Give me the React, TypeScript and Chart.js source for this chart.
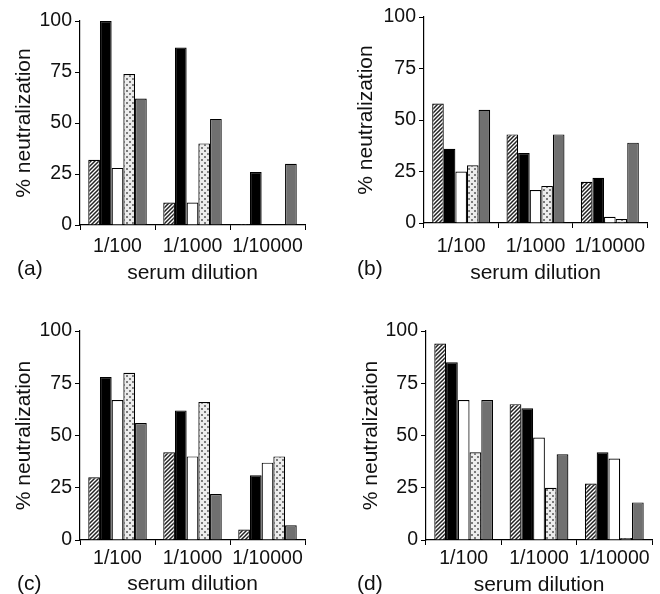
import React, { useEffect, useRef } from "react";
import { Chart, registerables } from "chart.js";

Chart.register(...registerables);

const categories = ["1/100", "1/1000", "1/10000"];
const yTickValues = [0, 25, 50, 75, 100];
const yTitle = "% neutralization";
const xTitle = "serum dilution";

// Panel (a)
const aHatched = [32, 11, 0.5];
const aBlack = [100, 87, 26];
const aWhite = [28, 11, 0];
const aDotted = [74, 40, 0];
const aGray = [62, 52, 30];

// Panel (b)
const bHatched = [58, 43, 20];
const bBlack = [36, 34, 22];
const bWhite = [25, 16, 3];
const bDotted = [28, 18, 2];
const bGray = [55, 43, 39];

// Panel (c)
const cHatched = [30, 42, 5];
const cBlack = [78, 62, 31];
const cWhite = [67, 40, 37];
const cDotted = [80, 66, 40];
const cGray = [56, 22, 7];

// Panel (d)
const dHatched = [94, 65, 27];
const dBlack = [85, 63, 42];
const dWhite = [67, 49, 39];
const dDotted = [42, 25, 1];
const dGray = [67, 41, 18];

const FONT = "'Liberation Sans', Arial, Helvetica, sans-serif";
const TEXT = "#111111";
const TICK_SIZE = 19.5;
const TITLE_SIZE = 21;

function makeHatch(): CanvasPattern | string {
  const c = document.createElement("canvas");
  c.width = 4;
  c.height = 4;
  const g = c.getContext("2d");
  if (!g) return "#888";
  g.fillStyle = "#ffffff";
  g.fillRect(0, 0, 4, 4);
  g.strokeStyle = "#222222";
  g.lineWidth = 1.5;
  g.beginPath();
  g.moveTo(0, 4);
  g.lineTo(4, 0);
  g.moveTo(-1, 1);
  g.lineTo(1, -1);
  g.moveTo(3, 5);
  g.lineTo(5, 3);
  g.stroke();
  return g.createPattern(c, "repeat") || "#888";
}

function makeDots(): CanvasPattern | string {
  const c = document.createElement("canvas");
  c.width = 6;
  c.height = 6;
  const g = c.getContext("2d");
  if (!g) return "#ddd";
  g.fillStyle = "#ececec";
  g.fillRect(0, 0, 6, 6);
  g.fillStyle = "#7a7a7a";
  g.fillRect(0, 0, 2, 2);
  g.fillRect(3, 3, 2, 2);
  return g.createPattern(c, "repeat") || "#ddd";
}

type Geo = {
  axisLeft: number;
  axisRight: number;
  top: number;
  bottom: number;
  yTitleCenter: number;
  xTickOffset: number;
  xTitleOffset: number;
};

const CW = 330;
const CH = 320;

function Panel(props: {
  series: number[][];
  geo: Geo;
  x: number;
  y: number;
  label: string;
  labelX: number;
  labelY: number;
}) {
  const ref = useRef<HTMLCanvasElement>(null);
  const { series, geo } = props;
  useEffect(() => {
    if (!ref.current) return;
    const hatch = makeHatch();
    const dots = makeDots();
    const fills = [hatch, "#000000", "#ffffff", dots, "#707070"];
    const titleLH = TITLE_SIZE * 1.2;
    const tickLH = TICK_SIZE * 1.2;
    const xAxisH = geo.xTitleOffset + titleLH / 2;
    const chart = new Chart(ref.current, {
      type: "bar",
      data: {
        labels: categories,
        datasets: series.map((vals, i) => ({
          label: "s" + i,
          data: vals,
          backgroundColor: fills[i] as any,
          borderColor: "#000000",
          borderWidth: 1.2,
          categoryPercentage: 0.78,
          barPercentage: 1.0,
        })),
      },
      options: {
        responsive: false,
        animation: false,
        events: [],
        layout: {
          padding: {
            left: 0,
            top: geo.top,
            right: CW - geo.axisRight,
            bottom: CH - geo.bottom - xAxisH,
          },
        },
        plugins: {
          legend: { display: false },
          tooltip: { enabled: false },
        },
        scales: {
          x: {
            type: "category",
            offset: true,
            grid: {
              display: true,
              offset: true,
              drawOnChartArea: false,
              drawTicks: true,
              tickLength: 5,
              color: "#000000",
              lineWidth: 1,
            },
            border: { display: true, color: "#000000", width: 1.2 },
            ticks: {
              color: TEXT,
              font: { family: FONT, size: TICK_SIZE },
              padding: geo.xTickOffset - 5 - tickLH / 2,
              maxRotation: 0,
              autoSkip: false,
            },
            title: {
              display: true,
              text: xTitle,
              color: TEXT,
              font: { family: FONT, size: TITLE_SIZE },
              padding: { top: 0, bottom: 0 },
            },
            afterFit: (s: any) => {
              s.height = xAxisH;
            },
          },
          y: {
            min: 0,
            max: 100,
            afterBuildTicks: (s: any) => {
              s.ticks = yTickValues.map((v) => ({ value: v }));
            },
            grid: {
              display: true,
              drawOnChartArea: false,
              drawTicks: true,
              tickLength: 5,
              color: "#000000",
              lineWidth: 1,
            },
            border: { display: true, color: "#000000", width: 1.2 },
            ticks: {
              color: TEXT,
              font: { family: FONT, size: TICK_SIZE },
              padding: 3,
            },
            title: {
              display: true,
              text: yTitle,
              color: TEXT,
              font: { family: FONT, size: TITLE_SIZE },
              padding: { top: geo.yTitleCenter - titleLH / 2, bottom: 0 },
            },
            afterFit: (s: any) => {
              s.width = geo.axisLeft;
            },
          },
        },
      },
    });
    return () => chart.destroy();
  }, []);
  return (
    <>
      <canvas
        ref={ref}
        width={CW}
        height={CH}
        style={{ position: "absolute", left: props.x, top: props.y, width: CW, height: CH }}
      />
      <div
        style={{
          position: "absolute",
          left: props.labelX,
          top: props.labelY,
          fontFamily: FONT,
          fontSize: 21,
          lineHeight: "24px",
          color: TEXT,
        }}
      >
        {props.label}
      </div>
    </>
  );
}

const geoA: Geo = { axisLeft: 80, axisRight: 305, top: 21, bottom: 225, yTitleCenter: 24, xTickOffset: 22, xTitleOffset: 48 };
const geoB: Geo = { axisLeft: 94, axisRight: 317, top: 17, bottom: 223, yTitleCenter: 36, xTickOffset: 24, xTitleOffset: 50 };
const geoC: Geo = { axisLeft: 80, axisRight: 305, top: 34, bottom: 243, yTitleCenter: 24, xTickOffset: 19, xTitleOffset: 44 };
const geoD: Geo = { axisLeft: 96, axisRight: 322, top: 34, bottom: 243, yTitleCenter: 41, xTickOffset: 19, xTitleOffset: 45 };

export default function App() {
  return (
    <div style={{ position: "absolute", left: 0, top: 0, width: 660, height: 594, overflow: "hidden", background: "#fff" }}>
      <Panel series={[aHatched, aBlack, aWhite, aDotted, aGray]} geo={geoA} x={0} y={0} label="(a)" labelX={17} labelY={256} />
      <Panel series={[bHatched, bBlack, bWhite, bDotted, bGray]} geo={geoB} x={330} y={0} label="(b)" labelX={357} labelY={256} />
      <Panel series={[cHatched, cBlack, cWhite, cDotted, cGray]} geo={geoC} x={0} y={297} label="(c)" labelX={17} labelY={571} />
      <Panel series={[dHatched, dBlack, dWhite, dDotted, dGray]} geo={geoD} x={330} y={297} label="(d)" labelX={357} labelY={571} />
    </div>
  );
}
